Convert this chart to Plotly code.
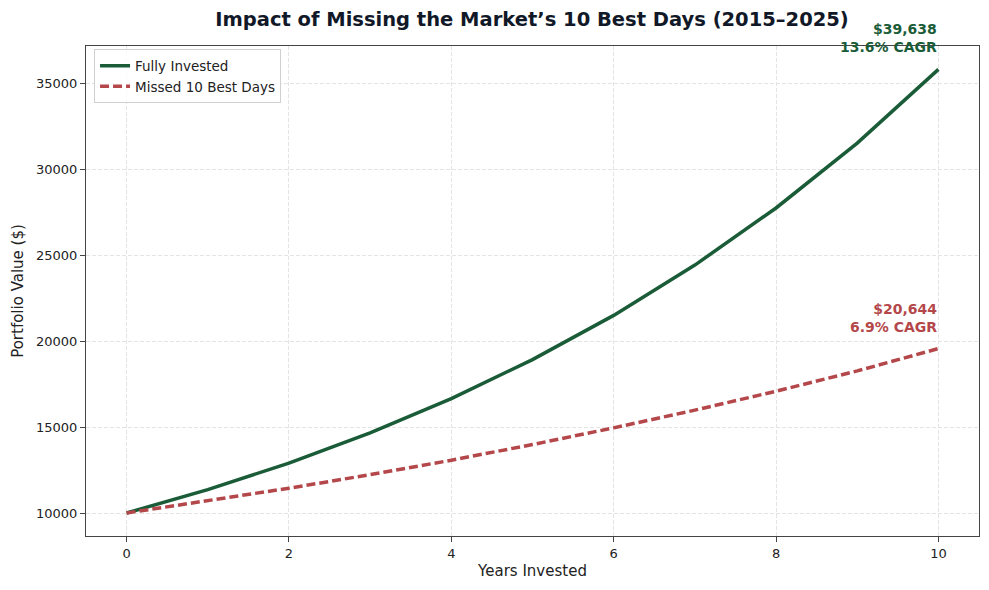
import plotly.graph_objects as go

years = [0, 1, 2, 3, 4, 5, 6, 7, 8, 9, 10]
fully_invested = [10000, 11360, 12905, 14660, 16653, 18918, 21490, 24413, 27733, 31505, 35790]
missed_best = [10000, 10700, 11440, 12230, 13070, 13980, 14950, 15980, 17080, 18260, 19560]
series_names = ["Fully Invested", "Missed 10 Best Days"]
end_labels = ["$39,638<br>13.6% CAGR", "$20,644<br>6.9% CAGR"]

GREEN = "#1b5c38"
RED = "#b4474a"
FONT = "DejaVu Sans"

# page body has an 8px default margin; compensate so the figure fills the window
W, H = 981, 582
fig = go.Figure()
fig.add_trace(go.Scatter(x=years, y=fully_invested, mode="lines", name=series_names[0],
                         line=dict(color=GREEN, width=3.5)))
fig.add_trace(go.Scatter(x=years, y=missed_best, mode="lines", name=series_names[1],
                         line=dict(color=RED, width=3.5, dash="9px,4px")))

for ys, lab, col in [(fully_invested, end_labels[0], GREEN), (missed_best, end_labels[1], RED)]:
    fig.add_annotation(x=years[-1], y=ys[-1], text="<b>" + lab.replace("<br>", "</b><br><b>") + "</b>",
                       showarrow=False, xanchor="right", yanchor="bottom", yshift=12, align="right",
                       xshift=1,
                       font=dict(family=FONT, size=14, color=col))

axis_common = dict(showline=True, linecolor="#444444", linewidth=1.2, mirror=True,
                   ticks="outside", ticklen=5, tickcolor="#444444",
                   showgrid=True, gridcolor="#e4e4e4", griddash="4px,2px", gridwidth=1,
                   zeroline=False, tickfont=dict(family=FONT, size=13, color="#222222"))

fig.update_layout(
    width=W, height=H,
    margin=dict(l=76, r=9, t=38, b=54),
    paper_bgcolor="white", plot_bgcolor="white",
    font=dict(family=FONT, color="#222222"),
    title=dict(text="<b>Impact of Missing the Market’s 10 Best Days (2015–2025)</b>",
               x=(76 + 972) / 2 / W, xanchor="center", y=1 - 11 / H, yanchor="middle",
               font=dict(family=FONT, size=19.5, color="#111827")),
    xaxis=dict(range=[-0.5, 10.5], tickvals=[0, 2, 4, 6, 8, 10],
               title=dict(text="Years Invested", font=dict(family=FONT, size=15, color="#222222"), standoff=5),
               **axis_common),
    yaxis=dict(range=[8663, 37151], tickvals=[10000, 15000, 20000, 25000, 30000, 35000], tickformat="d",
               title=dict(text="Portfolio Value ($)", font=dict(family=FONT, size=15, color="#222222"), standoff=8),
               **axis_common),
    legend=dict(x=0.009, y=0.993, xanchor="left", yanchor="top",
                bgcolor="rgba(255,255,255,0.8)", bordercolor="#d0d0d0", borderwidth=1,
                font=dict(family=FONT, size=13.5, color="#222222"), itemwidth=30,
                tracegroupgap=0),
    showlegend=True,
)

fig.write_html("out.html")
